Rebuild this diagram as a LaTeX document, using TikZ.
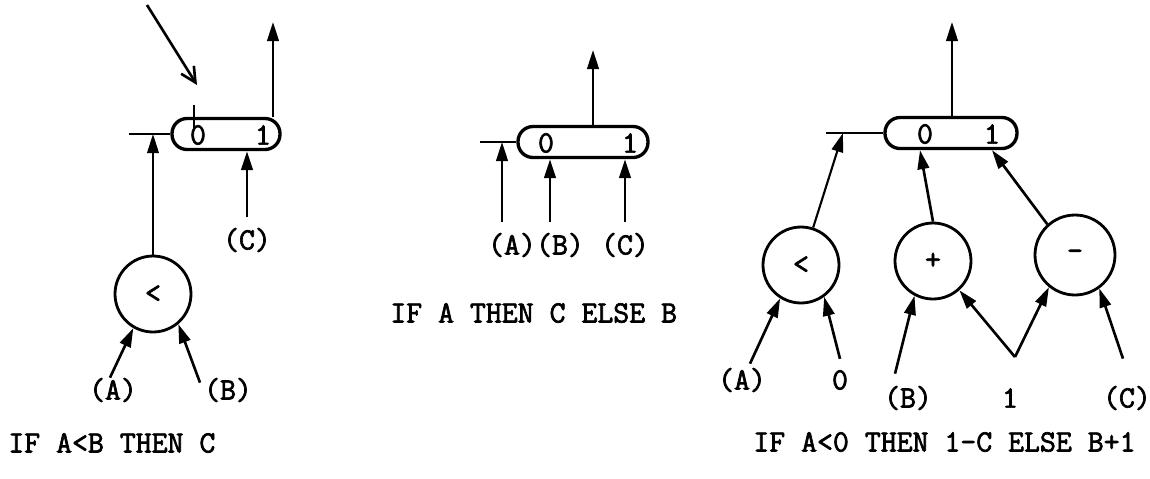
\documentclass[tikz,border=0pt]{standalone}
\usepackage{fontspec}
\setmonofont{Latin Modern Mono}[FakeBold=2.2]
\usepackage{tikz}
\usetikzlibrary{arrows.meta,positioning,calc}

\begin{document}
\begin{tikzpicture}[
  x=0.02cm,y=-0.02cm,
  >={Triangle[length=3.8mm,width=2.3mm]},
  every node/.style={font=\ttfamily\bfseries\fontsize{17.6}{19}\selectfont,inner sep=0pt},
  gate/.style={draw,line width=1.9pt,rounded corners=0.3cm,minimum height=0.62cm},
  op/.style={draw,circle,line width=1.6pt,minimum size=1.52cm},
  feed/.style={->,line width=1.5pt},
  wire/.style={line width=1.5pt},
  legend/.style={anchor=west}
]
  \useasboundingbox (0,0) rectangle (1150,478);

  % First graph: IF A<B THEN C
  \node[gate,minimum width=2.16cm] (g1) at (226,134) {};
  \node (g1zero) at (198,135) {0};
  \node (g1one) at (263,135) {1};
  \coordinate (s1) at (129,134);
  \coordinate (t1a) at (194,105);
  \coordinate (t1b) at (194,128);
  \coordinate (p1a) at (147,5);
  \coordinate (p1b) at (197,85);
  \coordinate (o1) at (273,22);
  \node[op] (lt1) at (153,294) {<};
  \node (la1) at (113,390) {(A)};
  \node (lb1) at (228,390) {(B)};
  \node (lc1) at (247,240) {(C)};
  \draw[wire] (s1) -- (g1.west);
  \draw[wire] (t1a) -- (t1b);
  \draw[-{Straight Barb[length=3mm,width=3mm]},line width=1.5pt] (p1a) -- (p1b);
  \draw[feed] (g1.north -| o1) -- (o1);
  \draw[feed] ([yshift=0.22cm]lc1.north) -- (g1.south -| lc1);
  \draw[->,line width=1.2pt] (lt1.north) -- (lt1.north |- s1);
  \draw[feed] ([xshift=-0.06cm]la1.north) -- (lt1.240);
  \draw[feed] ([xshift=-0.56cm,yshift=-0.1cm]lb1.north) -- (lt1.310);
  \node[legend] (c1) at (8,443) {IF A<B THEN C};

  % Second graph: IF A THEN C ELSE B
  \node[gate,minimum width=2.6cm] (g2) at (583,142) {};
  \node (g2zero) at (546,143) {0};
  \node (g2one) at (630,143) {1};
  \coordinate (s2) at (480,142);
  \coordinate (o2) at (593,50);
  \node (la2) at (512,245) {(A)};
  \node (lb2) at (560,245) {(B)};
  \node (lc2) at (625,245) {(C)};
  \draw[wire] (s2) -- (g2.west);
  \draw[feed] (g2.north -| o2) -- (o2);
  \draw[feed] ([xshift=-0.2cm,yshift=0.22cm]la2.north) -- ([xshift=-0.2cm]la2.north |- s2);
  \draw[feed] ([xshift=-0.2cm,yshift=0.22cm]lb2.north) -- ([xshift=-0.2cm]g2.south -| lb2);
  \draw[feed] ([yshift=0.22cm]lc2.north) -- (g2.south -| lc2);
  \node[legend] (c2) at (390,313) {IF A THEN C ELSE B};

  % Third graph: IF A<0 THEN 1-C ELSE B+1
  \node[gate,minimum width=2.64cm] (g3) at (951,133) {};
  \node (g3zero) at (925,134) {0};
  \node (g3one) at (992,134) {1};
  \coordinate (s3) at (826,133);
  \coordinate (o3) at (952,22);
  \node[op] (lt3) at (801,265) {<};
  \node[op] (plus) at (933,261) {+};
  \node[op,minimum size=1.6cm] (minus) at (1075,255) {-};
  \node (la3) at (742,380) {(A)};
  \node (zero3) at (840,380) {0};
  \node (lb3) at (908,398) {(B)};
  \node (one3) at (1010,398) {1};
  \node (lc3) at (1127,398) {(C)};
  \coordinate (v3) at (1015,357);
  \draw[wire] (s3) -- (g3.west);
  \draw[feed] (g3.north -| o3) -- (o3);
  \draw[->,line width=1.2pt] (lt3.72) -- (843,133);
  \draw[feed] (plus.north) -- ([xshift=-0.62cm]g3.south);
  \draw[feed] (minus.132) -- ([xshift=0.82cm]g3.south);
  \draw[feed] ([xshift=0.16cm,yshift=0.08cm]la3.north) -- (lt3.238);
  \draw[feed] ([yshift=0.22cm]zero3.north) -- (lt3.306);
  \draw[feed] ([xshift=-0.26cm,yshift=0.24cm]lb3.north) -- (plus.242);
  \draw[feed] (v3) -- (plus.312);
  \draw[feed] (v3) -- (minus.231);
  \draw[feed] ([xshift=-0.08cm,yshift=0.54cm]lc3.north) -- (minus.306);
  \node[legend] (c3) at (753,442) {IF A<0 THEN 1-C ELSE B+1};
\end{tikzpicture}
\end{document}
